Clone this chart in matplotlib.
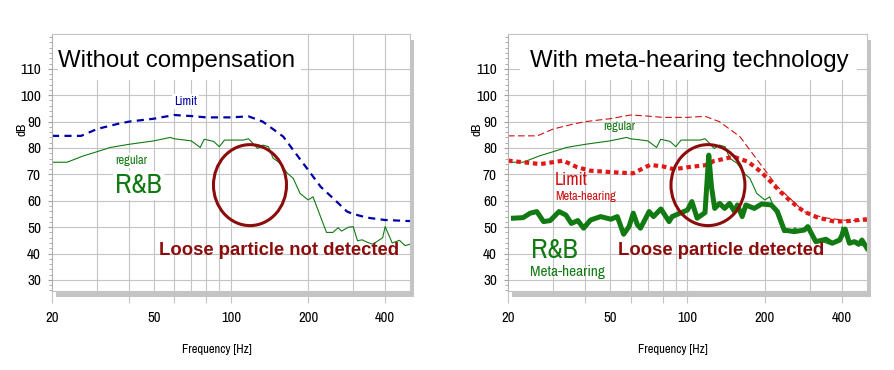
import matplotlib
matplotlib.use("Agg")
import matplotlib.pyplot as plt
from matplotlib import font_manager
from matplotlib.patches import Ellipse, Rectangle
from matplotlib.ticker import FixedLocator, NullFormatter

# ---- data ----
limit_freq = [20, 26, 30, 36, 40, 50, 60, 70, 80, 100, 117, 133, 160, 175, 200, 224, 250, 284, 300, 340, 400, 500]
limit_db = [84.6, 84.6, 87.2, 89.1, 90.0, 91.1, 92.5, 92.1, 91.6, 91.6, 92.0, 90.0, 84.3, 79.2, 71.7, 65.3, 61.0, 55.9, 55.0, 53.6, 52.7, 52.3]

regular_freq = [20, 22.9, 26.5, 30, 33.8, 40, 50, 57.9, 60, 70, 75.8, 78.6, 85.5, 90, 94.4, 100, 112, 117, 122, 127,
                133, 140, 146, 156, 166, 175, 186, 200, 209, 236, 250, 262, 270, 288, 300, 312, 325, 340, 358, 391,
                400, 426, 455, 478, 500]
regular_db = [74.6, 74.6, 77.0, 78.6, 80.2, 81.4, 82.7, 84.0, 83.5, 82.7, 80.2, 83.3, 82.5, 80.5, 83.0, 83.0, 83.0, 83.5, 81.7, 79.8,
              81.1, 80.5, 76.1, 74.2, 70.4, 68.5, 62.8, 60.3, 61.5, 48.0, 48.0, 49.8, 48.5, 50.0, 50.2, 44.8, 45.2, 44.3, 43.5, 46.0,
              50.2, 44.0, 45.0, 43.0, 43.5]

meta_limit_freq = [20, 26.7, 32.8, 37.2, 41.8, 51.3, 61.4, 65.3, 71.5, 80.4, 88, 94, 100, 120, 126, 138, 151, 172, 193,
                   211, 230, 253, 284, 320, 373, 421, 500]
meta_limit_db = [75.2, 73.9, 75.2, 72.7, 71.4, 70.8, 70.4, 71.7, 73.6, 73.0, 72.0, 72.3, 72.7, 73.6, 75.0, 75.8, 76.7, 74.8, 71.0,
                 67.2, 63.4, 59.7, 55.9, 53.7, 52.1, 52.3, 53.0]

meta_freq = [21, 22.9, 24.4, 25.9, 27.5, 29.2, 31.6, 33.6, 35.3, 37.4, 39.4, 41.9, 45.9, 50.3, 53.3, 56.4, 59.2, 61.5,
             63.8, 65.6, 70.9, 73.7, 78.8, 84.8, 87.1, 100, 104, 109, 117, 121, 124, 127.6, 133.4, 139.5, 145.8,
             152.4, 156.4, 163.3, 168.8, 182, 194.6, 212, 224, 238, 260, 285, 294, 316, 346, 366, 391, 411, 427,
             446, 464, 478, 500]
meta_db = [53.4, 53.6, 55.3, 55.9, 52.1, 52.5, 55.9, 54.6, 51.4, 52.5, 49.6, 52.7, 54.0, 53.0, 54.0, 47.3, 50.2, 55.3,
           50.9, 49.6, 55.9, 54.0, 56.9, 52.1, 54.0, 56.5, 59.7, 53.4, 55.5, 77.3, 65.3, 57.1, 59.0, 57.1, 59.0,
           55.9, 58.4, 54.0, 58.4, 57.1, 58.8, 58.4, 55.9, 48.9, 48.3, 48.9, 50.2, 44.5, 45.4, 43.9, 45.1, 49.3, 43.9,
           44.5, 43.5, 45.1, 42.0]

x_ticks = [20, 50, 100, 200, 400]
x_tick_marks = [20, 40, 60, 80, 100, 200, 400]
x_grid = [30, 40, 50, 60, 70, 80, 90, 100, 200, 300, 400]
y_ticks = [30, 40, 50, 60, 70, 80, 90, 100, 110]

green = "#127a12"
darkred = "#8c0c0c"
grid_c = "#c4c4c4"

names = {f.name for f in font_manager.fontManager.ttflist}
narrow = "Liberation Sans"
for cand in ["Liberation Sans Narrow", "Archivo Narrow"]:
    if cand in names:
        narrow = cand
        break
plt.rcParams["font.family"] = ["Liberation Sans", "DejaVu Sans"]

fig = plt.figure(figsize=(8.95, 3.7), dpi=100)
W, H = 895.0, 370.0


def setup(ax, left_px, right_px):
    ax.set_position([left_px / W, 1 - 291 / H, (right_px - left_px) / W, (291 - 34) / H])
    ax.set_xscale("log")
    ax.set_xlim(20, 500)
    ax.set_ylim(25.8, 123.2)
    ax.set_axisbelow(True)
    # gray drop shadow of the plot box
    pos = ax.get_position()
    fig.patches.append(Rectangle((pos.x0 + 4 / W, pos.y0 - 6 / H), pos.width, pos.height,
                                 transform=fig.transFigure, facecolor="#c4c4c4", edgecolor="none", zorder=-5))
    for s in ["top", "right", "bottom"]:
        ax.spines[s].set_color(grid_c)
        ax.spines[s].set_linewidth(0.8)
    ax.spines["left"].set_color("#b0b0b0")
    for v in x_grid:
        ax.axvline(v, color=grid_c, lw=0.8, zorder=0.5)
    for v in y_ticks:
        ax.axhline(v, color=grid_c, lw=0.8, zorder=0.5)
    ax.xaxis.set_major_locator(FixedLocator(x_ticks))
    ax.set_xticklabels([str(t) for t in x_ticks], fontfamily=narrow, fontsize=10.5)
    ax.xaxis.set_minor_locator(FixedLocator(x_tick_marks))
    ax.xaxis.set_minor_formatter(NullFormatter())
    ax.xaxis.remove_overlapping_locs = False
    ax.tick_params(axis="x", which="major", length=0, pad=14.5)
    ax.tick_params(axis="x", which="minor", length=8.5, color=grid_c, width=0.8)
    ax.set_yticks(y_ticks)
    ax.set_yticklabels([str(t) for t in y_ticks], fontfamily=narrow, fontsize=11)
    ax.yaxis.set_minor_locator(FixedLocator(list(range(26, 124, 2))))
    ax.tick_params(axis="y", which="major", length=3, color="#a0a0a0", pad=5)
    ax.tick_params(axis="y", which="minor", length=2, color="#a0a0a0")
    ax.set_xlabel("Frequency [Hz]", fontfamily=narrow, fontsize=9)
    ax.xaxis.set_label_coords(0.46, -0.205)
    ax.text(-0.085, 0.63, "dB", transform=ax.transAxes, rotation=90, fontfamily=narrow,
            fontsize=9.5, ha="center", va="center")


# ---- left: without compensation ----
ax1 = fig.add_axes([0, 0, 1, 1])
setup(ax1, 52, 410)
ax1.add_patch(Rectangle((0.016, 0.82), 0.68, 0.18, transform=ax1.transAxes,
                        facecolor="white", edgecolor="none", zorder=1))
ax1.text(0.017, 0.872, "Without compensation", transform=ax1.transAxes, fontsize=17.3, zorder=3)
ax1.plot(limit_freq, limit_db, color="#0000a8", lw=1.6, ls=(0, (3.2, 2.4)), zorder=2)
ax1.plot(regular_freq, regular_db, color=green, lw=0.8, zorder=2)
ax1.text(0.341, 0.724, "Limit", transform=ax1.transAxes, fontsize=9, color="#0000a8", fontfamily=narrow,
         zorder=3, bbox=dict(facecolor="white", edgecolor="none", pad=1.5))
ax1.text(0.176, 0.495, "regular", transform=ax1.transAxes, fontsize=9, color=green, fontfamily=narrow,
         zorder=3, bbox=dict(facecolor="white", edgecolor="none", pad=1.5))
ax1.text(0.176, 0.381, "R&B", transform=ax1.transAxes, fontsize=20, color=green, fontfamily=narrow,
         zorder=3, bbox=dict(facecolor="white", edgecolor="none", pad=1.5))
ax1.text(0.299, 0.142, "Loose particle not detected", transform=ax1.transAxes, fontsize=13.3,
         fontweight="bold", color=darkred, zorder=3)
ax1.add_patch(Ellipse((0.553, 0.412), 0.204, 0.315, transform=ax1.transAxes, fill=False,
                      edgecolor=darkred, lw=2.2, zorder=4))

# ---- right: with meta-hearing technology ----
ax2 = fig.add_axes([0, 0, 1, 1])
setup(ax2, 508, 867)
ax2.add_patch(Rectangle((0.033, 0.82), 0.94, 0.18, transform=ax2.transAxes,
                        facecolor="white", edgecolor="none", zorder=1))
ax2.text(0.061, 0.872, "With meta-hearing technology", transform=ax2.transAxes, fontsize=17.3, zorder=3)
ax2.plot(limit_freq, limit_db, color="#d01010", lw=0.8, ls=(0, (6, 3)), zorder=2)
ax2.plot(regular_freq, regular_db, color=green, lw=0.8, zorder=2)
ax2.plot(meta_limit_freq, meta_limit_db, color="#e01818", lw=3.0, ls=(0, (1.1, 0.9)), zorder=2.2)
ax2.plot(meta_freq, meta_db, color=green, lw=3.6, solid_joinstyle="round", zorder=2.3)
ax2.text(0.265, 0.625, "regular", transform=ax2.transAxes, fontsize=9, color=green, fontfamily=narrow, zorder=3)
ax2.text(0.131, 0.412, "Limit", transform=ax2.transAxes, fontsize=13, color="#d01010", fontfamily=narrow, zorder=3)
ax2.text(0.131, 0.354, "Meta-hearing", transform=ax2.transAxes, fontsize=9, color="#d01010", fontfamily=narrow, zorder=3)
ax2.text(0.064, 0.128, "R&B", transform=ax2.transAxes, fontsize=20, color=green, fontfamily=narrow, zorder=3)
ax2.text(0.061, 0.058, "Meta-hearing", transform=ax2.transAxes, fontsize=11, color=green, fontfamily=narrow, zorder=3)
ax2.text(0.306, 0.142, "Loose particle detected", transform=ax2.transAxes, fontsize=13.3,
         fontweight="bold", color=darkred, zorder=3)
ax2.add_patch(Ellipse((0.557, 0.412), 0.206, 0.315, transform=ax2.transAxes, fill=False,
                      edgecolor=darkred, lw=2.2, zorder=4))

fig.savefig("out.png", dpi=100)
